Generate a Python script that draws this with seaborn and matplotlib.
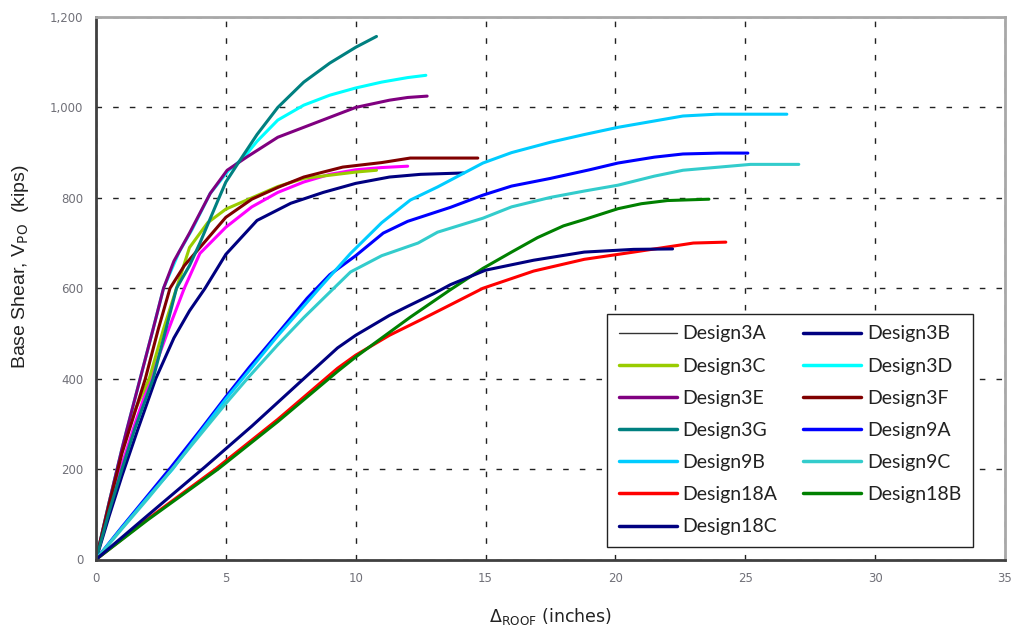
import numpy as np
import pandas as pd
import matplotlib
matplotlib.use("Agg")
import matplotlib.pyplot as plt
from matplotlib.lines import Line2D
import seaborn as sns

# ---------------- data ----------------
d3A_x = [0, 0.5, 1.0, 1.5, 2.1, 2.8, 3.4, 4.0, 5.0, 6.0, 7.0, 8.0, 9.0, 10.0, 11.0, 12.0]
d3A_y = [0, 110, 210, 300, 400, 510, 600, 677, 735, 780, 812, 835, 852, 862, 867, 870]

d3B_x = [0, 0.5, 1.0, 1.6, 2.3, 3.0, 3.6, 4.2, 5.0, 6.2, 7.5, 8.75, 10.0, 11.3, 12.5, 14.15]
d3B_y = [0, 95, 185, 286, 400, 490, 550, 600, 675, 750, 788, 812, 832, 846, 852, 855]

d3C_x = [0, 0.5, 1.0, 1.5, 2.05, 2.6, 3.1, 3.6, 4.3, 5.0, 5.8, 7.0, 8.0, 9.0, 10.0, 10.8]
d3C_y = [0, 125, 240, 330, 400, 510, 600, 690, 745, 775, 795, 825, 843, 850, 857, 861]

d3D_x = [0, 0.5, 1.0, 1.2, 1.7, 2.2, 2.6, 3.2, 3.7, 4.4, 5.1, 5.7, 6.2, 7.0, 8.0, 9.0, 10.0, 11.0, 12.0, 12.7]
d3D_y = [0, 125, 245, 290, 400, 510, 600, 680, 730, 810, 860, 890, 925, 972, 1005, 1027, 1043, 1056, 1066, 1071]

d3E_x = [0, 0.5, 1.0, 1.2, 1.7, 2.2, 2.6, 3.0, 3.6, 4.4, 5.05, 5.8, 7.0, 8.0, 9.0, 10.0, 11.3, 12.0, 12.75]
d3E_y = [0, 125, 245, 290, 400, 510, 600, 660, 722, 810, 861, 890, 934, 956, 978, 1000, 1016, 1022, 1025]

d3F_x = [0, 0.5, 1.0, 1.3, 1.9, 2.4, 2.85, 3.4, 4.0, 5.0, 6.0, 7.0, 8.0, 9.5, 11.0, 12.1, 13.0, 14.7]
d3F_y = [0, 120, 235, 290, 400, 510, 600, 650, 690, 757, 797, 823, 846, 868, 878, 888, 888, 888]

d3G_x = [0, 0.5, 1.0, 1.5, 2.2, 2.65, 3.1, 3.6, 4.0, 4.7, 5.0, 5.6, 6.2, 7.0, 8.0, 9.0, 10.0, 10.8]
d3G_y = [0, 105, 200, 290, 400, 500, 600, 650, 700, 795, 835, 888, 940, 1000, 1056, 1098, 1133, 1157]

d9A_x = [0, 1, 2, 2.9, 4, 5, 5.9, 7.0, 8.13, 9.0, 10.0, 11.06, 12.0, 13.65, 14.9, 16.0, 17.5, 19.0, 20.1, 21.5, 22.6, 24.0, 25.1]
d9A_y = [0, 72, 142, 205, 285, 360, 425, 500, 578, 630, 672, 722, 748, 779, 806, 826, 843, 862, 877, 890, 897, 899, 899]

d9B_x = [0, 1, 2, 2.95, 4, 5, 5.9, 7.0, 8.6, 9.8, 11.0, 12.1, 13.15, 14.9, 16.0, 17.5, 18.8, 20.1, 21.5, 22.6, 23.9, 25.0, 26.6]
d9B_y = [0, 70, 138, 200, 280, 355, 418, 495, 600, 677, 745, 795, 824, 877, 900, 923, 940, 956, 970, 981, 985, 985, 985]

d9C_x = [0, 1, 2, 3, 4, 5, 5.9, 7.0, 8.0, 8.8, 9.8, 11.0, 12.4, 13.15, 14.9, 16.0, 17.5, 18.8, 20.1, 21.5, 22.6, 24.0, 25.2, 27.06]
d9C_y = [0, 68, 135, 205, 275, 345, 405, 475, 535, 580, 636, 672, 700, 724, 755, 780, 801, 815, 828, 848, 861, 868, 874, 874]

d18A_x = [0, 2, 4.6, 7.0, 9.3, 10.0, 11.3, 12.5, 13.6, 14.9, 16.85, 18.8, 20.7, 22.2, 23.0, 24.25]
d18A_y = [0, 90, 200, 310, 423, 452, 496, 530, 562, 600, 638, 664, 680, 693, 700, 702]

d18B_x = [0, 2, 4.7, 7.0, 9.3, 10.0, 12.1, 13.6, 14.9, 16.0, 17.0, 18.0, 18.8, 20.1, 21.0, 22.0, 23.6]
d18B_y = [0, 88, 200, 305, 416, 448, 536, 595, 644, 680, 712, 738, 752, 776, 787, 794, 797]

d18C_x = [0, 2, 4.2, 6.0, 8.0, 9.3, 10.0, 11.3, 12.0, 13.0, 13.65, 15.0, 16.85, 18.8, 20.7, 22.2]
d18C_y = [0, 98, 205, 295, 400, 468, 496, 540, 560, 588, 608, 640, 662, 680, 686, 687]

designs = ["Design3A", "Design3B", "Design3C", "Design3D", "Design3E", "Design3F", "Design3G",
           "Design9A", "Design9B", "Design9C", "Design18A", "Design18B", "Design18C"]
series_x = [d3A_x, d3B_x, d3C_x, d3D_x, d3E_x, d3F_x, d3G_x, d9A_x, d9B_x, d9C_x, d18A_x, d18B_x, d18C_x]
series_y = [d3A_y, d3B_y, d3C_y, d3D_y, d3E_y, d3F_y, d3G_y, d9A_y, d9B_y, d9C_y, d18A_y, d18B_y, d18C_y]

x_ticks = [0, 5, 10, 15, 20, 25, 30, 35]
y_ticks = [0, 200, 400, 600, 800, 1000, 1200]
y_tick_labels = ["0", "200", "400", "600", "800", "1,000", "1,200"]

# ---------------- styles ----------------
line_colors = ["#FF00FF", "#000080", "#99CC00", "#00FFFF", "#800080", "#800000", "#008080",
               "#0000FF", "#00CCFF", "#33CCCC", "#FF0000", "#008000", "#000080"]
legend_colors = ["#333333"] + line_colors[1:]
legend_widths = [1.0] + [2.5] * 12

sns.set_style("white")
plt.rcParams["font.family"] = ["DejaVu Sans"]

fig = plt.figure(figsize=(10.14, 6.34), dpi=100)
ax = fig.add_axes([96 / 1014, 1 - 559.5 / 634, (1005 - 96) / 1014, (559.5 - 17) / 634])

for name, xs, ys, col in zip(designs, series_x, series_y, line_colors):
    df = pd.DataFrame({"x": xs, "y": ys})
    sns.lineplot(data=df, x="x", y="y", ax=ax, color=col, linewidth=2.2,
                 sort=False, estimator=None, legend=False)

ax.set_xlim(0, 35)
ax.set_ylim(0, 1200)
ax.set_xticks(x_ticks)
ax.set_xticklabels([str(v) for v in x_ticks])
ax.set_yticks(y_ticks)
ax.set_yticklabels(y_tick_labels)

ax.grid(True, color="#222222", linestyle=(0, (4, 8)), linewidth=1.0)
ax.set_axisbelow(True)

for side in ["left", "bottom"]:
    ax.spines[side].set_color("#404040")
    ax.spines[side].set_linewidth(2.0)
for side in ["top", "right"]:
    ax.spines[side].set_color("#A8A8A8")
    ax.spines[side].set_linewidth(2.0)
    ax.spines[side].set_visible(True)

ax.tick_params(axis="both", direction="inout", length=6, width=1, color="#333333",
               labelsize=8.5, labelcolor="#707078", pad=6)
ax.tick_params(axis="x", pad=6)

ax.set_xlabel(r"$\Delta_{\mathrm{ROOF}}$ (inches)", fontsize=12.5, color="#222222")
ax.xaxis.set_label_coords(0.5, -0.085)
ax.set_ylabel(r"Base Shear, V$_{\mathrm{PO}}$  (kips)", fontsize=14, color="#222222",
              family="Liberation Sans")
ax.yaxis.set_label_coords(-0.072, 0.54)

# legend filled row by row, like the reference
order = list(range(0, 13, 2)) + list(range(1, 13, 2))
handles = [Line2D([0], [0], color=legend_colors[i], linewidth=legend_widths[i]) for i in order]
labels = [designs[i] for i in order]
leg = ax.legend(handles, labels, ncol=2, loc="lower left",
                bbox_to_anchor=(0.562, 0.023, 0.403, 0.431), mode="expand",
                borderaxespad=0.0,
                frameon=True, fancybox=False, framealpha=1,
                edgecolor="#222222", handlelength=3.0, handletextpad=0.3,
                labelspacing=0.78, columnspacing=0.8, borderpad=0.6,
                prop={"family": "Lato", "size": 14})
leg.get_frame().set_linewidth(1.0)
for t in leg.get_texts():
    t.set_color("#222222")

fig.savefig("out.png", dpi=100, facecolor="white")
